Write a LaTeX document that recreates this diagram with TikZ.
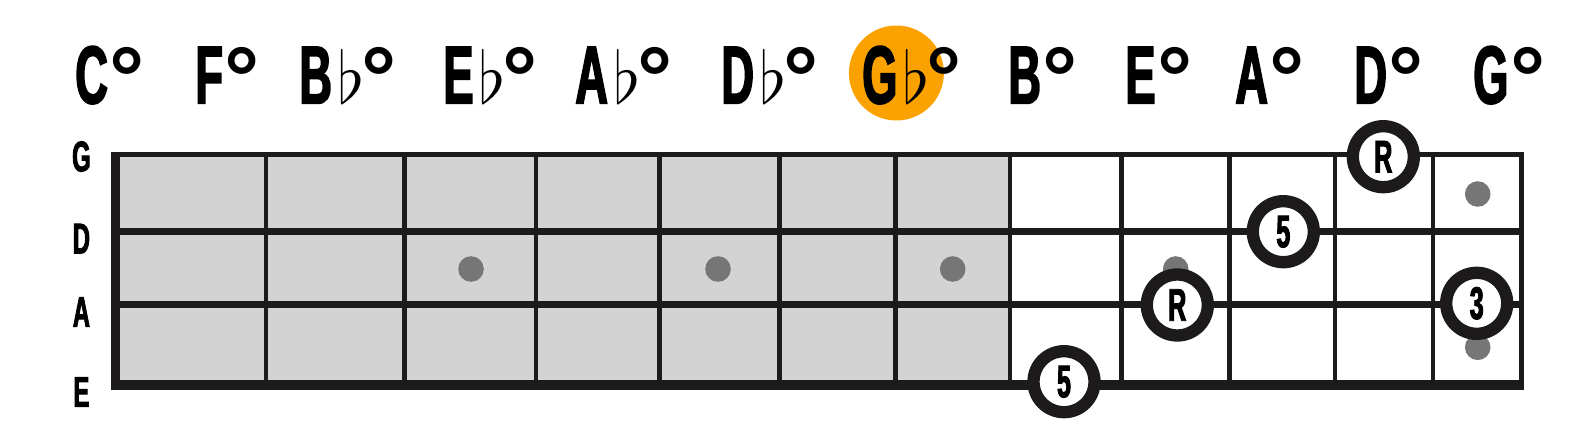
\documentclass[tikz,border=0pt]{standalone}
\usepackage{fontspec}
\usepackage{graphicx}
\newfontfamily\gothfont{Liberation Sans}[FakeStretch=0.55,FakeBold=2]
\newfontfamily\ringfont{Liberation Sans}
\definecolor{fretgray}{RGB}{211,211,211}
\definecolor{dotgray}{RGB}{118,118,118}
\definecolor{keyorange}{RGB}{251,161,0}
\definecolor{ink}{RGB}{28,26,26}
\newcommand{\flt}{\hspace{3pt}\scalebox{1.65}{$\flat$}\hspace{-3pt}}
\newcommand{\dimname}[2]{{\gothfont\bfseries #1}#2\hspace{1pt}{\ringfont\bfseries\fontsize{50}{52}\selectfont\raisebox{-3.1pt}{°}}}
\begin{document}
\begin{tikzpicture}[x=0.02cm,y=-0.02cm,
    chord/.style={anchor=base west,inner sep=0pt,font=\fontsize{46.7}{50}\selectfont},
    strname/.style={inner sep=0pt,font=\gothfont\bfseries\fontsize{24.5}{26}\selectfont},
    fret/.style={ink,line width=2.55pt},
    dot/.style={circle,fill=dotgray,inner sep=0pt,minimum size=0.512cm},
    note/.style={circle,draw=ink,fill=white,line width=7pt,inner sep=0pt,minimum size=1.22cm,
      font=\gothfont\bfseries\fontsize{26}{28}\selectfont}]
  \useasboundingbox (0,0) rectangle (1595,428);
  \node[circle,fill=keyorange,inner sep=0pt,minimum size=1.9cm] (key) at (896.4,73) {};
  \foreach \x/\n/\f [count=\i] in {75/C/,195/F/,299/B/\flt,443/E/\flt,575/A/\flt,721/D/\flt,
      862/G/\flt,1008/B/,1125/E/,1235/A/,1354/D/,1473/G/} {
    \node[chord] (chord\i) at (\x,103.4) {\dimname{\n}{\f}};
  }
  \fill[fretgray] (111,152) rectangle (1010,389);
  \foreach \x in {266,404.5,536,659.5,779.7,895.7,1010,1121.7,1229.7,1335,1433} {
    \draw[fret] (\x,154) -- (\x,385);
  }
  \draw[ink,line width=2.8pt] (111,154.5) -- (1524,154.5);
  \draw[ink,line width=3.7pt] (111,231.7) -- (1524,231.7);
  \draw[ink,line width=4.25pt] (111,304.5) -- (1524,304.5);
  \draw[ink,line width=5.7pt] (111,385) -- (1524,385);
  \draw[ink,line width=5.1pt] (115.5,152) -- (115.5,390);
  \draw[ink,line width=2.8pt] (1521.8,152) -- (1521.8,390);
  \node[strname] (strG) at (81.4,156.6) {G};
  \node[strname] (strD) at (81.4,238.6) {D};
  \node[strname] (strA) at (81.4,312) {A};
  \node[strname] (strE) at (81.4,392) {E};
  \foreach \x/\y [count=\i] in {471/269,718/269,952.7/269,1175.7/269,1477.7/194,1477.7/347.3} {
    \node[dot] (dot\i) at (\x,\y) {};
  }
  \node[note] (rootG) at (1383.3,156.7) {R};
  \node[note] (fifthD) at (1283.3,231.7) {5};
  \node[note] (rootA) at (1177.3,305) {R};
  \node[note] (thirdA) at (1476.7,303.3) {3};
  \node[note] (fifthE) at (1064,381.7) {5};
\end{tikzpicture}
\end{document}
